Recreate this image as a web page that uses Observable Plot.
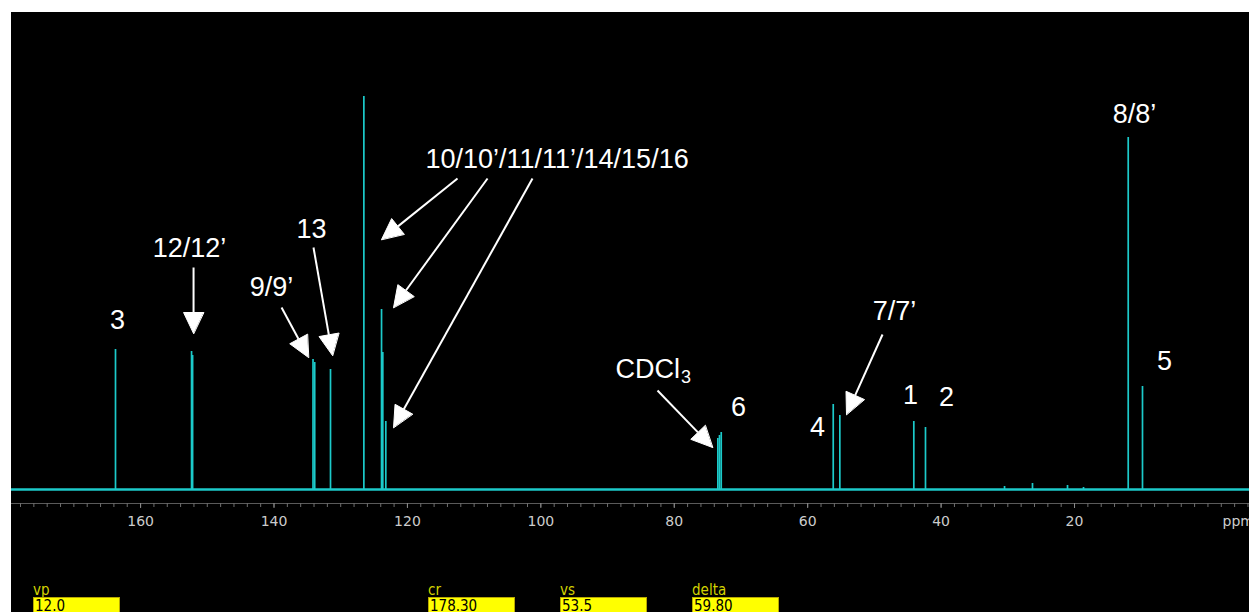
<!DOCTYPE html>
<html>
<head>
<meta charset="utf-8">
<script src="https://cdn.jsdelivr.net/npm/d3@7"></script>
<script src="https://cdn.jsdelivr.net/npm/@observablehq/plot@0.6"></script>
<style>
  html, body { margin: 0; padding: 0; background: #ffffff; }
  #page { position: relative; width: 1249px; height: 612px; overflow: hidden; background: #ffffff; }
  #panel { position: absolute; left: 11px; top: 12px; width: 1238px; height: 600px; background: #000; overflow: hidden; }
  .flabel { position: absolute; font-family: "DejaVu Sans Condensed", "DejaVu Sans", sans-serif; font-size: 15px; color: #d2d200; line-height: 15px; }
  .fbox { position: absolute; top: 597px; height: 16px; width: 87px; background: #ffff00; border: 1px solid #b8a800; box-sizing: border-box;
          font-family: "DejaVu Sans Condensed", "DejaVu Sans", sans-serif; font-size: 15px; color: #000; line-height: 15px; padding-left: 1px; padding-top: 1px; }
</style>
</head>
<body>
<div id="page">
  <div id="panel"></div>
</div>
<script>
// ---- spectrum peaks (ppm, relative intensity) ----
const peakPpm    = [163.76, 152.36, 152.20, 134.15, 133.90, 131.53, 126.53, 123.88, 123.69, 123.24, 73.47, 73.22, 72.96, 56.17, 55.18, 44.09, 42.34, 30.49, 26.30, 21.05, 18.65, 11.95, 9.81];
const peakHeight = [140,    138,    134,    130,    127,    120,    393,    180,    137,    68,     51,    54,    57,    85,    74,    68,    62,    3,     6,     4,     2,     352,   103];

// ---- axis ticks ----
const majorTicks = [160, 140, 120, 100, 80, 60, 40, 20];
const minorTicks = d3.range(-6, 180, 2);

// ---- peak labels ----
const labelText = ["3", "12/12’", "9/9’", "13", "10/10’/11/11’/14/15/16", "6", "4", "7/7’", "1", "2", "8/8’", "5"];
const labelPpm  = [163.46, 152.66, 140.37, 134.37, 97.57, 70.37, 58.52, 46.98, 44.58, 39.19, 11.0, 6.51];
const labelInt  = [169, 241, 202, 260, 330, 82, 62, 178, 94, 92, 375, 128];

// ---- arrows (tail -> tip) ----
const arrowTailPpm = [152.06, 138.87, 134.08, 112.49, 107.99, 101.25, 82.51, 48.78];
const arrowTailInt = [222, 182, 242, 311, 311, 311, 99, 155];
const arrowTipPpm  = [152.06, 134.83, 131.23, 123.88, 122.08, 122.08, 74.26, 54.18];
const arrowTipInt  = [156, 132, 134, 250, 182, 62, 42, 75];

// ---- parameter fields ----
const fieldNames  = ["vp", "cr", "vs", "delta"];
const fieldValues = ["12.0", "178.30", "53.5", "59.80"];

const W = 1238, H = 600, mTop = 77, mBottom = 123;
const xDomain = [179.35, -6.23];
const yDomain = [0, 400];
const cyan = "#1ccaca";

const xs = Plot.scale({x: {domain: xDomain, range: [0, W]}});
const ys = Plot.scale({y: {domain: yDomain, range: [H - mBottom, mTop]}});

const peaks = peakPpm.map((p, i) => ({ppm: p, h: peakHeight[i]}));
const labels = labelText.map((t, i) => ({text: t, ppm: labelPpm[i], y: labelInt[i]}));

// arrow shafts and filled heads, computed in pixel space and mapped back
const headLen = 21, headHalf = 10;
const shafts = [], heads = [];
arrowTailPpm.forEach((_, i) => {
  const tx = xs.apply(arrowTailPpm[i]), ty = ys.apply(arrowTailInt[i]);
  const px = xs.apply(arrowTipPpm[i]),  py = ys.apply(arrowTipInt[i]);
  const len = Math.hypot(px - tx, py - ty);
  const ux = (px - tx) / len, uy = (py - ty) / len;
  const bx = px - ux * headLen, by = py - uy * headLen;
  const nx = -uy, ny = ux;
  shafts.push({x1: arrowTailPpm[i], y1: arrowTailInt[i], x2: xs.invert(bx), y2: ys.invert(by)});
  [[px, py], [bx + nx * headHalf, by + ny * headHalf], [bx - nx * headHalf, by - ny * headHalf]].forEach(([a, b]) => {
    heads.push({id: i, x: xs.invert(a), y: ys.invert(b)});
  });
});

const labelFont = "'Liberation Sans', Arial, Helvetica, sans-serif";

const chart = Plot.plot({
  width: W,
  height: H,
  marginLeft: 0,
  marginRight: 0,
  marginTop: mTop,
  marginBottom: mBottom,
  style: {background: "#000", overflow: "hidden"},
  x: {domain: xDomain, axis: null},
  y: {domain: yDomain, axis: null},
  marks: [
    // axis
    Plot.ruleY([-14], {stroke: "#5a5a5a", strokeWidth: 1}),
    Plot.ruleX(minorTicks, {x: d => d, y1: -14, y2: -18, stroke: "#6e6e6e", strokeWidth: 1}),
    Plot.ruleX(majorTicks, {x: d => d, y1: -14, y2: -19, stroke: "#8a8a8a", strokeWidth: 1}),
    Plot.text(majorTicks, {x: d => d, y: -32, text: d => String(d), fill: "#cccccc", fontSize: 14, fontFamily: "'DejaVu Sans', sans-serif"}),
    Plot.text(["ppm"], {x: -2.19, y: -32, text: d => d, textAnchor: "start", fill: "#cccccc", fontSize: 14, fontFamily: "'DejaVu Sans', sans-serif"}),
    // spectrum
    Plot.ruleY([0], {stroke: cyan, strokeWidth: 2.4}),
    Plot.ruleX(peaks, {x: "ppm", y1: 0, y2: "h", stroke: cyan, strokeWidth: 1.7}),
    // arrows
    Plot.link(shafts, {x1: "x1", y1: "y1", x2: "x2", y2: "y2", stroke: "white", strokeWidth: 2}),
    Plot.line(heads, {x: "x", y: "y", z: "id", fill: "white", stroke: "white", strokeWidth: 1, curve: "linear-closed"}),
    // labels
    Plot.text(labels, {x: "ppm", y: "y", text: "text", fill: "white", fontSize: 27, fontFamily: labelFont}),
    Plot.text(["CDCl"], {x: 88.8, y: 120, text: d => d, textAnchor: "start", fill: "white", fontSize: 27, fontFamily: labelFont}),
    Plot.text(["3"], {x: 79.0, y: 112, text: d => d, textAnchor: "start", fill: "white", fontSize: 18, fontFamily: labelFont})
  ]
});
document.getElementById("panel").appendChild(chart);

// parameter fields at the bottom
const fieldLeft = [33, 428, 560, 692];
const page = document.getElementById("page");
fieldNames.forEach((n, i) => {
  const l = document.createElement("div");
  l.className = "flabel";
  l.style.left = fieldLeft[i] + "px";
  l.style.top = "583px";
  l.textContent = n;
  page.appendChild(l);
  const b = document.createElement("div");
  b.className = "fbox";
  b.style.left = fieldLeft[i] + "px";
  b.textContent = fieldValues[i];
  page.appendChild(b);
});
</script>
</body>
</html>
